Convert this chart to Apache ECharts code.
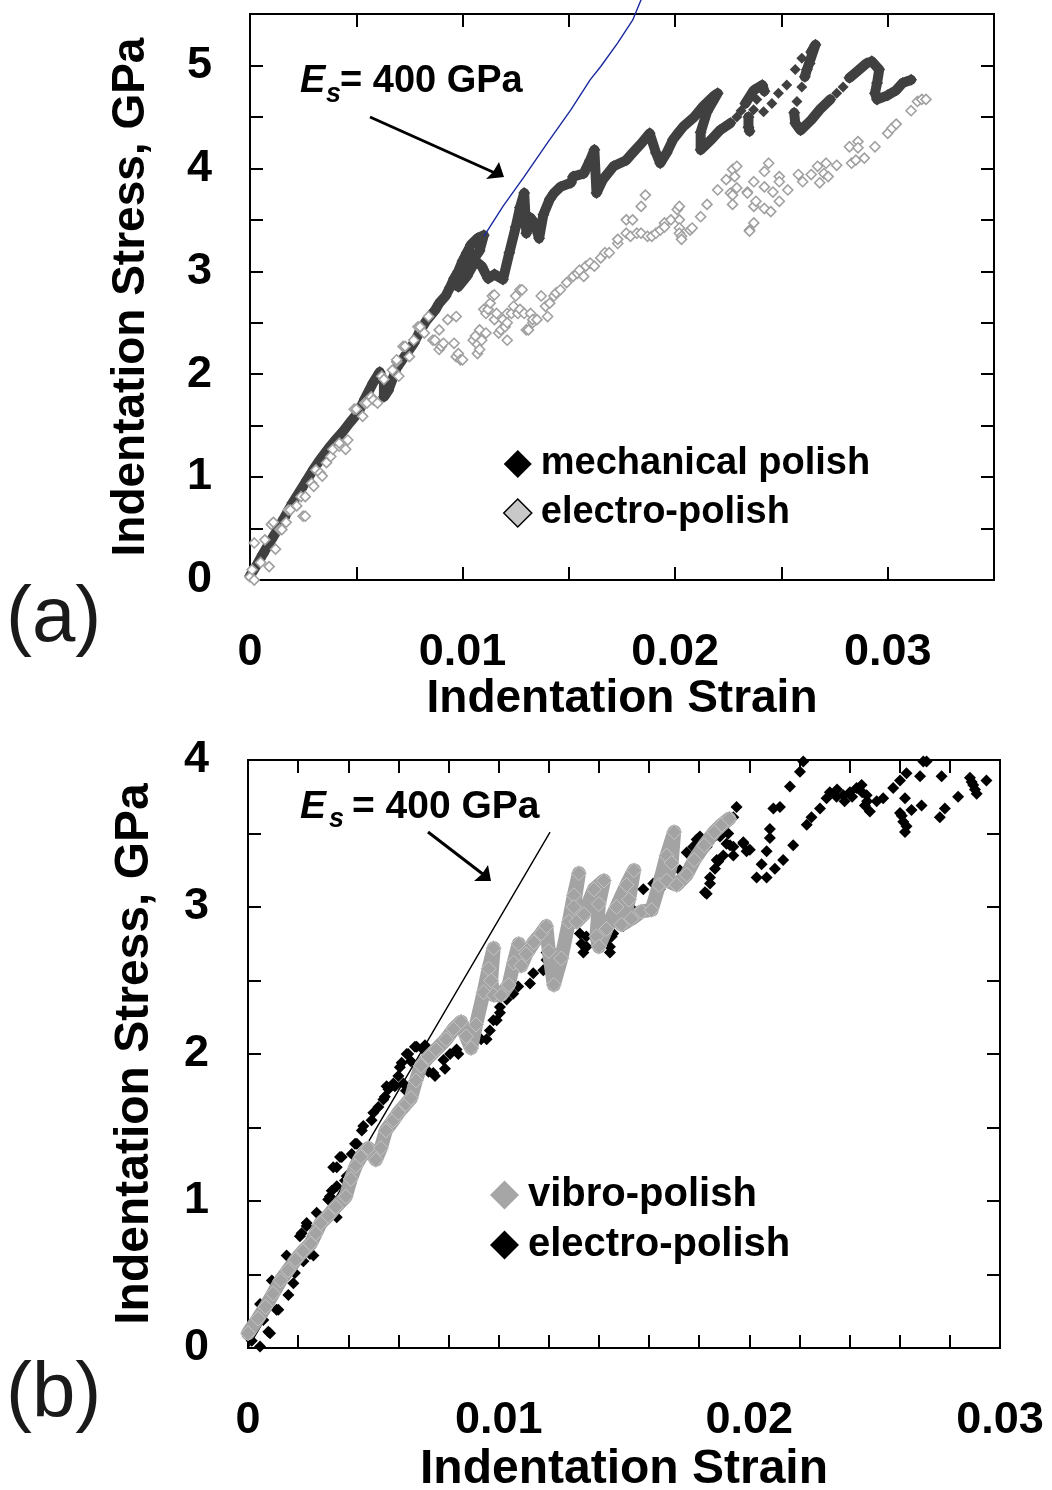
<!DOCTYPE html>
<html><head><meta charset="utf-8">
<script src="https://cdn.jsdelivr.net/npm/echarts/dist/echarts.min.js"></script>
<style>html,body{margin:0;padding:0;background:#fff}#c{width:1052px;height:1490px}</style>
</head><body><div id="c"></div>
<script>
// ---------- Panel (a) ----------
var xTickValsA = [0, 0.01, 0.02, 0.03];
var xTickTextA = ['0', '0.01', '0.02', '0.03'];
var yTickValsA = [0, 1, 2, 3, 4, 5];
var yTickTextA = ['0', '1', '2', '3', '4', '5'];

// mechanical polish: dense trace (null = gap) and isolated points
var mechBandA = [
[0.0000,0.04],[0.0003,0.14],[0.0006,0.25],[0.0010,0.39],[0.0013,0.49],[0.0016,0.60],[0.0020,0.75],[0.0024,0.88],[0.0027,0.98],[0.0030,1.08],[0.0033,1.17],[0.0037,1.28],[0.0041,1.38],[0.0044,1.45],[0.0047,1.53],[0.0051,1.63],[0.0054,1.76],[0.0058,1.92],[0.0061,2.02],[0.0063,1.92],[0.0063,1.78],[0.0065,1.84],[0.0069,2.06],[0.0073,2.18],[0.0077,2.30],[0.0080,2.42],[0.0083,2.52],[0.0087,2.62],[0.0089,2.69],[0.0092,2.76],[0.0094,2.84],[0.0096,2.93],[0.0098,3.00],[0.0100,3.10],[0.0102,3.18],[0.0104,3.26],[0.0107,3.32],[0.0110,3.35],[0.0108,3.20],[0.0103,3.05],[0.0100,2.95],[0.0098,2.85],[0.0102,2.95],[0.0106,3.10],[0.0109,3.05],[0.0112,2.93],[0.0115,2.97],[0.0119,2.92],[0.0122,3.18],[0.0125,3.43],[0.0127,3.62],[0.0129,3.76],[0.0130,3.37],[0.0132,3.52],[0.0134,3.46],[0.0136,3.32],[0.0138,3.55],[0.0141,3.70],[0.0143,3.76],[0.0146,3.82],[0.0151,3.86],[0.0152,3.92],[0.0157,3.95],[0.0160,4.08],[0.0162,4.18],[0.0163,3.76],[0.0166,3.89],[0.0171,4.02],[0.0177,4.08],[0.0180,4.15],[0.0184,4.24],[0.0188,4.34],[0.0191,4.15],[0.0193,4.05],[0.0196,4.15],[0.0199,4.28],[0.0202,4.36],[0.0204,4.41],[0.0209,4.50],[0.0213,4.60],[0.0218,4.70],[0.0220,4.73],[0.0215,4.55],[0.0212,4.35],[0.0212,4.18],[0.0217,4.28],[0.0221,4.37],[0.0226,4.44],
null,
[0.0233,4.63],[0.0237,4.76],[0.0241,4.81],[0.0242,4.75],
null,
[0.02345,4.50],[0.02345,4.40],[0.0235,4.36],
null,
[0.0264,5.13],[0.0266,5.20],[0.0262,4.96],[0.0261,4.89],
null,
[0.0256,4.54],[0.02565,4.44],[0.0259,4.37],[0.0264,4.47],[0.0268,4.57],[0.0273,4.67],
null,
[0.0282,4.88],[0.02855,4.94],[0.0290,5.02],[0.02925,5.04],[0.0296,4.96],[0.0295,4.83],[0.0294,4.73],[0.0295,4.67],[0.0300,4.71],[0.0304,4.76],[0.0307,4.83],[0.0311,4.86]
];
var mechDotsA = [
[0.0229,4.50],[0.0231,4.56],[0.02384,4.67],[0.02369,4.57],[0.02416,4.55],[0.02455,4.63],[0.02486,4.73],[0.02525,4.81],[0.02565,4.96],[0.02596,5.07],[0.02635,5.02],[0.02596,4.79],[0.02573,4.65],[0.0276,4.73],[0.0279,4.79]
];
// electro-polish (hollow markers)
var electroA = [
[0.0000,0.03],[0.0001,0.10],[0.0002,0.36],[0.0002,0.00],[0.0005,0.17],[0.0007,0.39],[0.0009,0.13],[0.0010,0.54],[0.0011,0.56],[0.0012,0.30],[0.0014,0.49],[0.0015,0.49],[0.0017,0.56],[0.0018,0.68],[0.0019,0.68],[0.0022,0.72],[0.0024,0.81],[0.0025,0.62],[0.0026,0.62],[0.0026,0.81],[0.0029,0.94],[0.0030,0.91],[0.0031,1.07],[0.0033,1.04],[0.0034,1.01],[0.0036,1.14],[0.0038,1.20],[0.0039,1.27],[0.0042,1.30],[0.0042,1.33],[0.0045,1.27],[0.0046,1.36],[0.0049,1.66],[0.0050,1.66],[0.0053,1.59],[0.0054,1.72],[0.0055,1.72],[0.0057,1.78],[0.0058,1.75],[0.0060,1.72],[0.0062,1.98],[0.0063,1.95],[0.0067,2.04],[0.0069,2.12],[0.0069,2.14],[0.0070,1.98],[0.0072,2.27],[0.0073,2.27],[0.0075,2.17],[0.0077,2.33],[0.0079,2.46],[0.0080,2.46],[0.0082,2.40],[0.0084,2.56],[0.0086,2.33],[0.0087,2.33],[0.0089,2.43],[0.0089,2.24],[0.0090,2.27],[0.0091,2.30],[0.0093,2.53],[0.0096,2.30],[0.0097,2.56],[0.0097,2.17],[0.0098,2.20],[0.0099,2.14],[0.0100,2.14],
[0.0105,2.33],[0.0106,2.37],[0.0107,2.29],[0.0107,2.20],[0.0108,2.24],[0.0108,2.43],[0.0109,2.33],[0.0110,2.63],[0.0111,2.59],[0.0111,2.40],[0.0112,2.63],[0.0113,2.69],[0.0114,2.76],[0.0115,2.53],[0.0115,2.77],[0.0116,2.59],[0.0117,2.40],[0.0118,2.43],[0.0119,2.53],[0.0120,2.46],[0.0121,2.50],[0.0121,2.59],[0.0121,2.33],[0.0123,2.59],[0.0124,2.66],[0.0125,2.76],[0.0126,2.59],[0.0127,2.63],[0.0127,2.82],[0.0128,2.82],[0.0129,2.59],[0.0130,2.43],[0.0131,2.43],[0.0132,2.59],[0.0133,2.50],[0.0133,2.53],[0.0135,2.53],[0.0137,2.76],[0.0139,2.66],[0.0140,2.56],[0.0141,2.69],[0.0143,2.76],[0.0144,2.79],[0.0146,2.82],[0.0149,2.89],[0.0152,2.95],[0.0154,2.98],[0.0155,3.01],[0.0157,2.95],[0.0158,3.05],[0.0160,3.08],[0.0162,3.05],[0.0165,3.13],[0.0167,3.18],[0.0169,3.18],[0.0173,3.27],[0.0173,3.31],[0.0177,3.37],[0.0177,3.50],[0.0179,3.34],[0.0180,3.50],[0.0182,3.37],[0.0184,3.37],[0.0184,3.63],[0.0186,3.74],[0.0187,3.34],[0.0189,3.34],[0.0191,3.37],[0.0193,3.40],[0.0195,3.47],[0.0195,3.43],[0.0198,3.50],[0.0201,3.60],[0.0202,3.50],[0.0202,3.63],[0.0202,3.42],[0.0202,3.37],[0.0203,3.34],[0.0203,3.31],[0.0207,3.40],[0.0208,3.42],[0.0212,3.53],[0.0215,3.65],[0.0220,3.79],[0.0224,3.89],[0.0226,3.76],[0.0227,3.74],[0.0227,3.65],[0.0227,3.99],[0.0228,3.92],[0.0229,3.81],[0.0229,4.02],[0.0234,3.77],[0.0234,3.76],[0.0235,3.40],[0.0235,3.39],[0.0237,3.87],[0.0237,3.63],[0.0237,3.47],[0.0238,3.68],[0.0242,3.82],[0.0242,3.97],[0.0244,4.05],[0.0242,3.61],[0.0245,3.58],[0.0246,3.77],[0.0249,3.68],[0.0249,3.92],[0.0249,3.87],[0.0253,3.79],[0.0258,3.94],[0.0260,3.87],[0.0264,3.94],[0.0267,4.02],[0.0268,3.86],[0.0270,3.95],[0.0271,4.05],[0.0272,3.92],[0.0276,4.03],[0.0282,4.21],[0.0283,4.05],[0.0285,4.08],[0.0286,4.26],[0.0286,4.20],[0.0289,4.10],[0.0294,4.21],[0.0300,4.34],[0.0302,4.39],[0.0304,4.43],[0.0311,4.56],[0.0314,4.65],[0.0316,4.67],[0.0318,4.67]
];
// Es = 400 GPa reference line (a)
var esLineA = [[0.0110,3.34],[0.0119,3.63],[0.0129,3.92],[0.0140,4.25],[0.0151,4.57],[0.0160,4.86],[0.0165,4.99],[0.0173,5.22],[0.0180,5.44],[0.0184,5.64]];

// ---------- Panel (b) ----------
var xTickValsB = [0, 0.01, 0.02, 0.03];
var xTickTextB = ['0', '0.01', '0.02', '0.03'];
var yTickValsB = [0, 1, 2, 3, 4];
var yTickTextB = ['0', '1', '2', '3', '4'];

var vibroBandB = [
[0.0000,0.10],[0.0004,0.20],[0.0007,0.28],[0.0010,0.37],[0.0013,0.46],[0.0016,0.53],[0.0019,0.60],[0.0022,0.66],[0.0025,0.71],[0.0027,0.78],[0.0029,0.85],[0.0032,0.90],[0.0035,0.96],[0.0039,1.03],[0.0041,1.15],[0.0043,1.24],[0.0045,1.30],[0.0048,1.36],[0.0051,1.28],[0.0053,1.36],[0.0055,1.48],[0.0058,1.55],[0.0060,1.60],[0.0063,1.66],[0.0065,1.70],[0.0067,1.82],[0.0069,1.92],[0.0072,1.98],[0.0075,2.03],[0.0079,2.10],[0.0082,2.17],[0.0085,2.22],[0.0087,2.12],[0.0089,2.04],[0.0091,2.20],[0.0094,2.42],[0.0096,2.58],[0.0098,2.72],[0.0097,2.50],[0.0098,2.40],[0.0101,2.40],[0.0104,2.47],[0.0106,2.62],[0.0108,2.75],[0.0109,2.60],[0.0111,2.68],[0.0114,2.76],[0.0117,2.82],[0.0119,2.87],[0.0120,2.70],[0.0122,2.47],[0.0125,2.65],[0.0128,2.90],[0.0130,3.08],[0.0132,3.23],[0.0130,3.00],[0.0131,2.90],[0.0134,2.95],[0.0138,3.12],[0.0142,3.18],[0.0140,3.02],[0.0139,2.80],[0.0140,2.73],[0.0143,2.85],[0.0147,3.00],[0.0151,3.15],[0.0154,3.25],[0.0152,3.05],[0.0149,2.88],[0.0153,2.92],[0.0157,2.97],[0.0161,2.98],[0.0164,3.15],[0.0167,3.35],[0.0170,3.51],[0.0169,3.30],[0.0167,3.18],[0.0171,3.15],[0.0175,3.22],[0.0178,3.32],[0.0182,3.42],[0.0186,3.51],[0.0189,3.56],[0.0192,3.60]
];
var electroB = [
[0.0000,0.08],[0.00015,0.05],[0.00048,0.01],[0.00061,0.19],[0.00081,0.11],[0.00088,0.10],[0.00048,0.30],[0.00095,0.46],[0.00101,0.37],[0.00114,0.26],[0.00121,0.26],[0.00161,0.36],[0.00181,0.44],[0.00154,0.63],[0.00187,0.51],[0.00207,0.76],[0.00214,0.78],[0.00221,0.59],[0.00234,0.85],[0.00234,0.83],[0.00247,0.64],[0.00261,0.63],[0.00274,0.92],[0.0032,1.01],[0.00327,1.03],[0.00334,1.07],[0.0034,1.23],[0.00354,0.89],[0.00354,1.10],[0.00354,1.23],[0.00367,1.30],[0.00374,1.30],[0.00387,1.14],[0.00394,1.17],[0.00414,1.32],[0.00427,1.39],[0.00434,1.39],[0.00454,1.48],[0.0046,1.51],[0.00493,1.55],[0.0050,1.60],[0.0052,1.64],[0.0054,1.69],[0.00546,1.71],[0.00553,1.78],[0.0056,1.76],[0.0058,1.80],[0.00586,1.78],[0.006,1.85],[0.00606,1.91],[0.00613,1.94],[0.0062,1.80],[0.0063,1.75],[0.00633,2.00],[0.00639,2.00],[0.0065,1.95],[0.00666,2.05],[0.00673,2.05],[0.0068,1.90],[0.00699,2.03],[0.00706,2.06],[0.00719,1.99],[0.0072,1.88],[0.00739,1.87],[0.00746,1.85],[0.0078,1.96],[0.00786,1.90],[0.00806,2.00],[0.00832,2.03],[0.00839,2.00],[0.0093,2.10],[0.00952,2.10],[0.00965,2.16],[0.00979,2.23],[0.00992,2.23],[0.01005,2.28],[0.01005,2.32],[0.01032,2.37],[0.01058,2.41],[0.01078,2.46],[0.01125,2.48],[0.01138,2.55],[0.01178,2.57],[0.01191,2.64],[0.01191,2.69],[0.01205,2.71],[0.01218,2.69],[0.01191,2.80],[0.01311,2.93],[0.01311,2.89],[0.01324,2.82],[0.0133,2.75],[0.01338,2.69],[0.01351,2.73],[0.0135,2.80],[0.01431,2.78],[0.01444,2.69],[0.01444,2.73],[0.01451,2.80],[0.01457,2.82],[0.01497,2.87],[0.0151,2.91],[0.01537,2.96],[0.01537,2.98],[0.01577,3.12],[0.01617,3.00],[0.01617,3.16],[0.01643,3.12],[0.01643,3.21],[0.0167,3.23],[0.0167,3.25],[0.01723,3.25],[0.0175,3.37],[0.01776,3.41],[0.0179,3.46],[0.01803,3.48],[0.0183,3.41],[0.01823,3.10],[0.0183,3.09],[0.01843,3.16],[0.01843,3.20],[0.01863,3.26],[0.0187,3.32],[0.01876,3.31],[0.01896,3.35],[0.0187,3.49],[0.01883,3.48],[0.01909,3.43],[0.01916,3.50],[0.01923,3.42],[0.01936,3.35],[0.01936,3.41],[0.01936,3.61],[0.01949,3.68],[0.01976,3.43],[0.01976,3.44],[0.01989,3.38],[0.02002,3.39],[0.02029,3.20],[0.02049,3.29],[0.02069,3.20],[0.02069,3.38],[0.02082,3.47],[0.02082,3.53],[0.02096,3.67],[0.02122,3.68],[0.02102,3.26],[0.02135,3.32],[0.02175,3.42],[0.02162,3.82],[0.02202,3.92],[0.02215,3.99],[0.02229,3.56],[0.02248,3.61],[0.02282,3.67],[0.02308,3.74],[0.02321,3.78],[0.02348,3.75],[0.0235,3.80],[0.02375,3.76],[0.0238,3.72],[0.02401,3.78],[0.0241,3.75],[0.02428,3.81],[0.0245,3.78],[0.02448,3.83],[0.02468,3.76],[0.0247,3.72],[0.02461,3.69],[0.02481,3.65],[0.02508,3.72],[0.02534,3.74],[0.02574,3.81],[0.02601,3.86],[0.02627,3.91],[0.02681,3.89],[0.02694,3.99],[0.02707,3.99],[0.02621,3.74],[0.02601,3.64],[0.02608,3.62],[0.02614,3.58],[0.02627,3.55],[0.02621,3.51],[0.02647,3.66],[0.02687,3.69],[0.0276,3.61],[0.0278,3.67],[0.02767,3.89],[0.02833,3.75],[0.0288,3.88],[0.02887,3.85],[0.02893,3.83],[0.029,3.80],[0.02907,3.77],[0.02946,3.86]
];
var esLineB = [[0.0000,0.00],[0.0050,1.46],[0.01205,3.51]];

// ---------- chart ----------
var F = 'Liberation Sans';
function fmt(vals, texts) {
  return function (v) {
    for (var i = 0; i < vals.length; i++) if (Math.abs(v - vals[i]) < 1e-9) return texts[i];
    return '';
  };
}
var tick = { show: true, inside: true, length: 13, lineStyle: { color: '#000', width: 2 } };
var lbl = { fontSize: 45, fontWeight: 'bold', color: '#000', fontFamily: F };

function xAx(g, max, itv, pos, vals, texts, name, nameGap, nameSize, margin) {
  var a = { type: 'value', gridIndex: g, min: 0, max: max, interval: itv, position: pos,
    axisLine: { show: false, onZero: false }, axisTick: tick, splitLine: { show: false } };
  if (vals) {
    a.axisLabel = Object.assign({ margin: margin, formatter: fmt(vals, texts) }, lbl);
    a.name = name; a.nameLocation = 'middle'; a.nameGap = nameGap;
    a.nameTextStyle = { fontSize: nameSize, fontWeight: 'bold', color: '#000', fontFamily: F };
  } else a.axisLabel = { show: false };
  return a;
}
function yAx(g, max, pos, vals, texts, name, nameGap, nameSize, margin) {
  var a = { type: 'value', gridIndex: g, min: 0, max: max, interval: 0.5, position: pos,
    axisLine: { show: false, onZero: false }, axisTick: tick, splitLine: { show: false } };
  if (vals) {
    a.axisLabel = Object.assign({ margin: margin, formatter: fmt(vals, texts) }, lbl);
    a.name = name; a.nameLocation = 'middle'; a.nameGap = nameGap; a.nameRotate = 90;
    a.nameTextStyle = { fontSize: nameSize, fontWeight: 'bold', color: '#000', fontFamily: F };
  } else a.axisLabel = { show: false };
  return a;
}

var chart = echarts.init(document.getElementById('c'), null, { renderer: 'canvas' });
var option = {
  animation: false,
  backgroundColor: '#fff',
  grid: [
    { left: 250, top: 14, width: 744, height: 566, show: true, borderColor: '#000', borderWidth: 2, backgroundColor: 'transparent', containLabel: false, outerBoundsMode: 'none' },
    { left: 248, top: 760, width: 752, height: 588, show: true, borderColor: '#000', borderWidth: 2, backgroundColor: 'transparent', containLabel: false, outerBoundsMode: 'none' }
  ],
  xAxis: [
    xAx(0, 0.035, 0.005, 'bottom', xTickValsA, xTickTextA, 'Indentation Strain', 96, 46, 50),
    xAx(0, 0.035, 0.005, 'top'),
    xAx(1, 0.03, 0.002, 'bottom', xTickValsB, xTickTextB, 'Indentation Strain', 98, 48, 50),
    xAx(1, 0.03, 0.002, 'top')
  ],
  yAxis: [
    yAx(0, 5.5, 'left', yTickValsA, yTickTextA, 'Indentation Stress, GPa', 96, 46, 38),
    yAx(0, 5.5, 'right'),
    yAx(1, 4, 'left', yTickValsB, yTickTextB, 'Indentation Stress, GPa', 89, 48, 39),
    yAx(1, 4, 'right')
  ],
  legend: [
    { orient: 'vertical', left: 503, top: 445, icon: 'diamond', itemWidth: 28, itemHeight: 28, itemGap: 11,
      selectedMode: false, padding: 0,
      textStyle: { fontSize: 38, fontWeight: 'bold', color: '#000', fontFamily: F, lineHeight: 28, padding: [0, 0, 0, 4] },
      data: [
        { name: 'mechanical polish', itemStyle: { color: '#000', borderWidth: 0, opacity: 1 } },
        { name: 'electro-polish', itemStyle: { color: '#c8c8c8', borderColor: '#000', borderWidth: 1.5, opacity: 1 } }
      ] },
    { orient: 'vertical', left: 490, top: 1175, icon: 'diamond', itemWidth: 29, itemHeight: 29, itemGap: 10,
      selectedMode: false, padding: 0,
      textStyle: { fontSize: 40, fontWeight: 'bold', color: '#000', fontFamily: F, lineHeight: 29, padding: [0, 0, 0, 4] },
      data: [
        { name: 'vibro-polish', itemStyle: { color: '#a6a6a6', borderWidth: 0, opacity: 1 } },
        { name: 'electro-polish ', itemStyle: { color: '#000', borderWidth: 0, opacity: 1 } }
      ] }
  ],
  series: [
    { type: 'line', name: 'mechanical polish', xAxisIndex: 0, yAxisIndex: 0, data: mechBandA,
      connectNulls: false, symbol: 'diamond', symbolSize: 12, showSymbol: true, showAllSymbol: true,
      lineStyle: { color: '#404040', width: 10, join: 'round', cap: 'round' }, itemStyle: { color: '#404040', opacity: 1 }, z: 2 },
    { type: 'scatter', name: 'mechanical polish', xAxisIndex: 0, yAxisIndex: 0, data: mechDotsA,
      symbol: 'diamond', symbolSize: 11, itemStyle: { color: '#404040', opacity: 1 }, z: 2 },
    { type: 'scatter', name: 'electro-polish', xAxisIndex: 0, yAxisIndex: 0, data: electroA,
      symbol: 'diamond', symbolSize: 10, itemStyle: { color: '#fff', borderColor: '#a0a0a0', borderWidth: 1.6, opacity: 1 }, z: 3 },
    { type: 'line', name: 'Es400a', xAxisIndex: 0, yAxisIndex: 0, data: esLineA, symbol: 'none', clip: false,
      lineStyle: { color: '#1a2a9e', width: 1.4 }, z: 4 },

    { type: 'scatter', name: 'electro-polish ', xAxisIndex: 2, yAxisIndex: 2, data: electroB,
      symbol: 'diamond', symbolSize: 12, itemStyle: { color: '#000', opacity: 1 }, z: 2 },
    { type: 'line', name: 'vibro-polish', xAxisIndex: 2, yAxisIndex: 2, data: vibroBandB,
      symbol: 'diamond', symbolSize: 15, showSymbol: true, showAllSymbol: true,
      lineStyle: { color: '#a3a3a3', width: 14, join: 'round', cap: 'round' },
      itemStyle: { color: '#a3a3a3', borderColor: '#c4c4c4', borderWidth: 1, opacity: 1 }, z: 3 },
    { type: 'line', name: 'Es400b', xAxisIndex: 2, yAxisIndex: 2, data: esLineB, symbol: 'none',
      lineStyle: { color: '#000', width: 1.4 }, z: 1 }
  ],
  graphic: [
    { type: 'text', left: 6, top: 580, style: { text: '(a)', font: '78px "Liberation Sans"', fill: '#1a1a1a' } },
    { type: 'text', left: 6, top: 1356, style: { text: '(b)', font: '78px "Liberation Sans"', fill: '#1a1a1a' } },

    { type: 'text', x: 300, y: 82, style: { text: 'E', font: 'italic bold 38px "Liberation Sans"', fill: '#000', verticalAlign: 'middle' } },
    { type: 'text', x: 326, y: 95, style: { text: 's', font: 'italic bold 27px "Liberation Sans"', fill: '#000', verticalAlign: 'middle' } },
    { type: 'text', x: 340, y: 82, style: { text: '= 400 GPa', font: 'bold 38px "Liberation Sans"', fill: '#000', verticalAlign: 'middle' } },
    { type: 'line', shape: { x1: 370, y1: 117, x2: 495, y2: 173 }, style: { stroke: '#000', lineWidth: 3 } },
    { type: 'polygon', shape: { points: [[504, 177], [486, 179], [493, 172], [499, 162]] }, style: { fill: '#000' } },

    { type: 'text', x: 300, y: 807, style: { text: 'E', font: 'italic bold 39px "Liberation Sans"', fill: '#000', verticalAlign: 'middle' } },
    { type: 'text', x: 329, y: 820, style: { text: 's', font: 'italic bold 27px "Liberation Sans"', fill: '#000', verticalAlign: 'middle' } },
    { type: 'text', x: 352, y: 807, style: { text: '= 400 GPa', font: 'bold 39px "Liberation Sans"', fill: '#000', verticalAlign: 'middle' } },
    { type: 'line', shape: { x1: 428, y1: 832, x2: 484, y2: 875 }, style: { stroke: '#000', lineWidth: 3 } },
    { type: 'polygon', shape: { points: [[491, 881], [474, 881], [482, 874], [488, 865]] }, style: { fill: '#000' } }
  ]
};
chart.setOption(option);
</script></body></html>
